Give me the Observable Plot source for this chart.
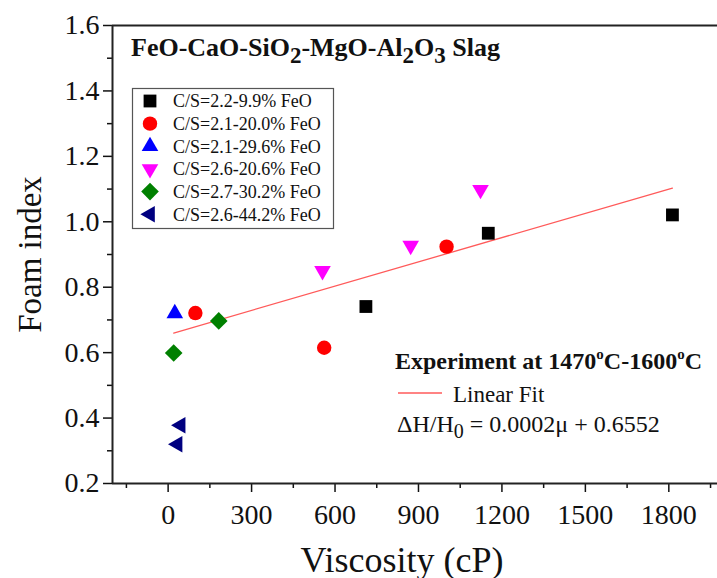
<!DOCTYPE html>
<html><head><meta charset="utf-8">
<script src="https://cdn.jsdelivr.net/npm/d3@7"></script>
<script src="https://cdn.jsdelivr.net/npm/@observablehq/plot@0.6"></script>
<style>body{margin:0;background:#fff}</style>
</head><body><div id="chart"></div>
<script>
// ---- data ----
const groups = ["C/S=2.2-9.9% FeO","C/S=2.1-20.0% FeO","C/S=2.1-29.6% FeO","C/S=2.6-20.6% FeO","C/S=2.7-30.2% FeO","C/S=2.6-44.2% FeO"];
const viscosity = [[711,1151,1813],[98,561,1001],[24],[555,872,1123],[20,182],[45,34]];
const foamIndex = [[0.741,0.965,1.021],[0.721,0.615,0.924],[0.72],[0.85,0.927,1.098],[0.599,0.697],[0.378,0.32]];
const colors = ["#000000","#ff0000","#0000ff","#ff00ff","#008000","#000080"];
const fitX = [20, 1813];
const fitY = [0.66, 1.103];
const xTicks = [0,300,600,900,1200,1500,1800];
const xMinor = [-150,150,450,750,1050,1350,1650,1950];
const yTicks = [0.2,0.4,0.6,0.8,1.0,1.2,1.4,1.6];
const yMinor = [0.3,0.5,0.7,0.9,1.1,1.3,1.5];

// ---- symbols ----
const poly = pts => ({draw(ctx){ctx.moveTo(pts[0][0],pts[0][1]);for(let i=1;i<pts.length;i++)ctx.lineTo(pts[i][0],pts[i][1]);ctx.closePath();}});
const symSquare = poly([[-6.4,-6.4],[6.4,-6.4],[6.4,6.4],[-6.4,6.4]]);
const symCircle = {draw(ctx){ctx.moveTo(7.2,0);ctx.arc(0,0,7.2,0,2*Math.PI);}};
const symUp = poly([[0,-9.6],[8.3,4.8],[-8.3,4.8]]);
const symDown = poly([[0,9.6],[8.3,-4.8],[-8.3,-4.8]]);
const symDiamond = poly([[0,-8.8],[8.8,0],[0,8.8],[-8.8,0]]);
const symLeft = poly([[-9.6,0],[4.8,-8.3],[4.8,8.3]]);
const symbols = [symSquare,symCircle,symUp,symDown,symDiamond,symLeft];

const rows = groups.flatMap((g,i)=>viscosity[i].map((v,j)=>({group:g, x:v, y:foamIndex[i][j]})));
const fit = fitX.map((v,i)=>({x:v, y:fitY[i]}));

const serif = "'Liberation Serif','Times New Roman',serif";
const W = 717, H = 578;
const axisText = {fontFamily: serif, fontSize: 28, fill: "#111"};

const chart = Plot.plot({
  width: W, height: H,
  marginLeft: 112, marginRight: 0, marginTop: 25, marginBottom: 95,
  style: {fontFamily: serif, background: "#fff", color: "#111"},
  x: {domain: [-200, 1975], axis: null},
  y: {domain: [0.2, 1.6], axis: null},
  color: {domain: groups, range: colors},
  symbol: {domain: groups, range: symbols},
  marks: [
    Plot.axisX(xMinor, {tickSize: 5, tickFormat: () => "", strokeWidth: 1.5, label: null}),
    Plot.axisX(xTicks, {tickSize: 9, tickPadding: 12, ...axisText, strokeWidth: 1.5, tickFormat: d => String(d), label: null}),
    Plot.axisY(yMinor, {tickSize: 5, tickFormat: () => "", strokeWidth: 1.5, label: null}),
    Plot.axisY(yTicks, {tickSize: 9, tickPadding: 4, ...axisText, strokeWidth: 1.5, tickFormat: d => d.toFixed(1), label: null}),
    Plot.ruleY([0.2, 1.6], {stroke: "#222", strokeWidth: 2}),
    Plot.ruleX([-200], {stroke: "#222", strokeWidth: 2}),
    Plot.line(fit, {x: "x", y: "y", stroke: "#ff5a5a", strokeWidth: 1.3}),
    Plot.dot(rows, {x: "x", y: "y", symbol: "group", fill: "group", stroke: "none", r: 7}),
    Plot.text(["Viscosity (cP)"], {frameAnchor: "bottom", dx: -13, dy: 88, fontSize: 36, fontFamily: serif, fill: "#111", textAnchor: "middle"}),
    Plot.text(["Foam index"], {frameAnchor: "left", dx: -82, rotate: -90, fontSize: 33, fontFamily: serif, fill: "#111", textAnchor: "middle"})
  ]
});
document.getElementById("chart").appendChild(chart);

// ---- legend and annotations ----
const svg = d3.select(chart);
const g = svg.append("g").attr("font-family", serif).attr("fill", "#111").attr("text-anchor", "start");

// Title with subscripts
const title = g.append("text").attr("x", 131).attr("y", 56).attr("font-size", 26).attr("font-weight", "bold");
const parts = [["FeO-CaO-SiO",0],["2",1],["-MgO-Al",0],["2",1],["O",0],["3",1],[" Slag",0]];
parts.forEach(([t,sub],i)=>{
  const prevSub = i>0 && parts[i-1][1];
  const ts = title.append("tspan").text(t);
  if (sub) ts.attr("font-size", 23);
  ts.attr("dy", sub && !prevSub ? 7 : (!sub && prevSub ? -7 : 0));
});

// Legend box
const lg = g.append("g");
lg.append("rect").attr("x", 132.5).attr("y", 88.5).attr("width", 201).attr("height", 140)
  .attr("fill", "#fff").attr("stroke", "#555").attr("stroke-width", 1.2);
groups.forEach((name,i)=>{
  const y = 101 + i*22.65;
  lg.append("path").attr("transform", `translate(150,${y})`)
    .attr("d", d3.symbol(symbols[i])()).attr("fill", colors[i]);
  lg.append("text").attr("x", 173).attr("y", y).attr("dy", "0.35em").attr("font-size", 18).text(name);
});

// Experiment annotation
const ex = g.append("text").attr("x", 395).attr("y", 369).attr("font-size", 24).attr("font-weight", "bold");
ex.append("tspan").text("Experiment at 1470");
ex.append("tspan").text("o").attr("font-size", 15).attr("dy", -10);
ex.append("tspan").text("C-1600").attr("dy", 10);
ex.append("tspan").text("o").attr("font-size", 15).attr("dy", -10);
ex.append("tspan").text("C").attr("dy", 10);

g.append("line").attr("x1", 398).attr("x2", 442).attr("y1", 393).attr("y2", 393)
  .attr("stroke", "#ff5a5a").attr("stroke-width", 1.3);
g.append("text").attr("x", 453).attr("y", 402).attr("font-size", 23).text("Linear Fit");

const eq = g.append("text").attr("x", 397).attr("y", 432).attr("font-size", 24);
eq.append("tspan").text("\u0394H/H");
eq.append("tspan").text("0").attr("font-size", 20).attr("dy", 6);
eq.append("tspan").text(" = 0.0002\u03bc + 0.6552").attr("dy", -6);
</script>
</body></html>
